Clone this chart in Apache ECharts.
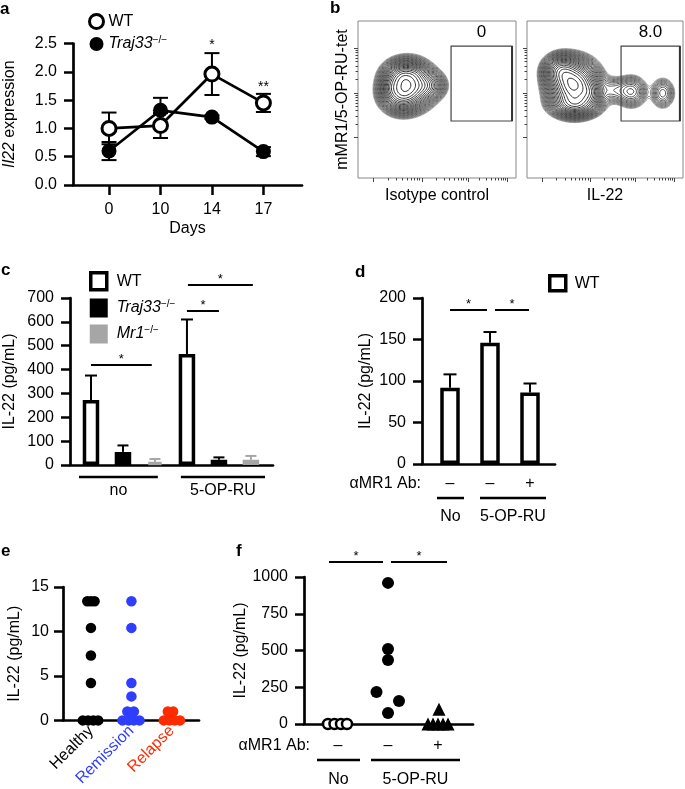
<!DOCTYPE html>
<html><head><meta charset="utf-8">
<script src="https://cdn.jsdelivr.net/npm/echarts@6/dist/echarts.min.js"></script>
<style>html,body{margin:0;padding:0;background:#fff}#c{width:685px;height:789px}</style>
</head><body><div id="c"></div>
<script>
// ---------------- DATA ----------------
// Panel a: Il22 expression over days
const aDays = ['0', '10', '14', '17'];
const aWT = [1.00, 1.05, 1.96, 1.45];
const aWTerr = [0.28, 0.22, 0.37, 0.16];
const aKO = [0.60, 1.32, 1.20, 0.59];
const aKOerr = [0.16, 0.22, 0.03, 0.08];
const aStarPos = [[2, 2.47], [3, 1.73]];
const aStarText = ['*', '**'];

// Panel b: flow plots (density model in plot units 0-100), gates, gate percentages
const bLeftBlobs = [ // [cx, cy, sx, sy, weight]
  [32, 59, 7.5, 7, 1.0],
  [27, 53, 6, 5.5, 0.5],
  [28, 65, 5.5, 4.5, 0.4],
  [44, 59, 5.5, 4.5, 0.25],
  [21, 58, 3, 4, 0.15],
  [37, 67, 3.5, 3, 0.12]
];
const bRightBlobs = [
  [30, 59, 7.5, 7.5, 1.0],
  [22, 68, 5.5, 5, 0.45],
  [31, 47, 7.5, 4, 0.4],
  [40, 54, 4, 4, 0.2],
  [55, 56, 6, 4.5, 0.06],
  [67, 55, 5, 5, 0.12],
  [87, 54, 4, 5, 0.08]
];
const bGatesLeft = [[58.9, 36.3, 97.5, 84]];
const bGatesRight = [[60.3, 36.3, 98, 84]];
const bGateLabelsLeft = ['0'];
const bGateLabelsRight = ['8.0'];
const bMajorX = [9.5, 40.5, 69.6, 94.3];
const bMajorY = [26.1, 54.1, 82.8];

// Panel c
const cWT = [[0, 272], [3, 465]];
const cWTerr = [375, 610];
const cKO = [[1, 55], [4, 22]];
const cKOerr = [82, 32];
const cMR = [[2, 13], [5, 22]];
const cMRerr = [25, 38];
const cSig = [[0, 1.9, 419], [3, 4, 645], [3.03, 5.06, 754]];
const cGroups = [[-0.375, 2.09, -50], [2.81, 5.44, -50]];
const cGroupLabels = ['no', '5-OP-RU'];

// Panel d
const dWT = [[0, 92], [1, 146], [2, 86]];
const dWTerr = [108, 159, 97];
const dSig = [[0, 0.925, 185.5], [1.125, 1.975, 185.5]];
const dAbPos = [[0, -24], [1, -24], [2, -24]];
const dAbText = ['–', '–', '+'];
const dGroups = [[-0.325, 0.35, -41], [0.75, 2.4, -41]];
const dGroupLabels = ['No', '5-OP-RU'];

// Panel e
const eGroups = ['Healthy', 'Remission', 'Relapse'];
const eColors = ['#000000', '#2f3dff', '#ff2b00'];
const eHealthy = [[-0.09, 13.4], [0, 13.4], [0.09, 13.4], [0, 10.4], [0, 7.3], [0, 4.2],
                  [-0.2, 0], [-0.07, 0], [0.06, 0], [0.18, 0]];
const eRemission = [[1, 13.4], [1, 10.4], [1, 4.2], [1, 2.7], [0.9, 1.0], [1.06, 1.0],
                    [0.78, 0], [0.93, 0], [1.06, 0], [1.2, 0]];
const eRelapse = [[1.9, 1.0], [2.03, 1.0], [1.8, 0], [1.94, 0], [2.07, 0], [2.2, 0]];

// Panel f
const fNo = [[-0.2, 0], [-0.07, 0], [0.06, 0], [0.18, 0]];
const fOPRU = [[1, 960], [1, 510], [1, 435], [0.77, 218], [1.22, 156], [1, 75]];
const fAb = [[2.02, 100], [1.8, 0], [1.9, 0], [2.0, 0], [2.1, 0], [2.2, 0]];
const fSig = [[-0.18, 0.9, 1102], [1.06, 2.18, 1102]];
const fAbPos = [[0, -150], [1, -150], [2, -150]];
const fAbText = ['–', '–', '+'];
const fGroups = [[-0.42, 0.44, -245], [0.66, 2.44, -245]];
const fGroupLabels = ['No', '5-OP-RU'];

// ---------------- HELPERS ----------------
const FF = '"Liberation Sans", Arial, Helvetica, sans-serif';
const FS = 16;

function errSeries(g, data, o) {
  return {
    type: 'custom', xAxisIndex: g, yAxisIndex: g, z: o.z || 2, silent: true,
    encode: {x: 0, y: [1, 2]}, data: data,
    renderItem: function (params, api) {
      const x = api.value(0), lo = api.value(1), hi = api.value(2);
      const p1 = api.coord([x, lo]), p2 = api.coord([x, hi]);
      const w = o.cap / 2;
      const st = {stroke: o.color || '#000', lineWidth: o.lw || 2};
      const ch = [
        {type: 'line', shape: {x1: p1[0], y1: p1[1], x2: p2[0], y2: p2[1]}, style: st},
        {type: 'line', shape: {x1: p2[0] - w, y1: p2[1], x2: p2[0] + w, y2: p2[1]}, style: st}
      ];
      if (o.both) ch.push({type: 'line', shape: {x1: p1[0] - w, y1: p1[1], x2: p1[0] + w, y2: p1[1]}, style: st});
      return {type: 'group', children: ch};
    }
  };
}
function textSeries(g, pts, texts, o) {
  return {
    type: 'custom', xAxisIndex: g, yAxisIndex: g, z: 6, silent: true, data: pts,
    renderItem: function (params, api) {
      const p = api.coord([api.value(0), api.value(1)]);
      return {type: 'text', x: p[0], y: p[1] + (o.dy || 0),
        style: {text: texts[params.dataIndex], textAlign: 'center', textVerticalAlign: 'middle',
          font: o.font || (FS + 'px ' + FF), fill: o.color || '#000'}};
    }
  };
}
function hlineSeries(g, segs, labels, o) {
  return {
    type: 'custom', xAxisIndex: g, yAxisIndex: g, z: 6, silent: true,
    encode: {x: [0, 1], y: 2}, data: segs,
    renderItem: function (params, api) {
      const y = api.value(2);
      const p1 = api.coord([api.value(0), y]), p2 = api.coord([api.value(1), y]);
      const ch = [{type: 'line', shape: {x1: p1[0], y1: p1[1], x2: p2[0], y2: p2[1]},
        style: {stroke: '#000', lineWidth: o.lw || 2}}];
      const t = labels[params.dataIndex];
      if (t) ch.push({type: 'text', x: (p1[0] + p2[0]) / 2, y: p1[1] + o.dy,
        style: {text: t, textAlign: 'center', textVerticalAlign: 'middle',
          font: o.font || (FS + 'px ' + FF), fill: '#000'}});
      return {type: 'group', children: ch};
    }
  };
}

// contour lines for the flow plots (marching squares over the density model)
function contours(blobs, nLev) {
  const n = 120, step = 100 / n;
  const f = (x, y) => blobs.reduce((s, b) => s + b[4] * Math.exp(-((x - b[0]) ** 2 / (2 * b[2] ** 2) + (y - b[1]) ** 2 / (2 * b[3] ** 2))), 0);
  const V = [];
  let mx = 0;
  for (let j = 0; j <= n; j++) { V.push([]); for (let i = 0; i <= n; i++) { const v = f(i * step, j * step); V[j].push(v); if (v > mx) mx = v; } }
  const lo = 0.012, hi = 0.93, out = [];
  for (let k = 0; k < nLev; k++) {
    const L = mx * lo * Math.pow(hi / lo, k / (nLev - 1));
    const segs = [];
    for (let j = 0; j < n; j++) for (let i = 0; i < n; i++) {
      const c = [[i, j], [i + 1, j], [i + 1, j + 1], [i, j + 1]];
      const pts = [];
      for (let e = 0; e < 4; e++) {
        const a = c[e], b = c[(e + 1) % 4];
        const va = V[a[1]][a[0]], vb = V[b[1]][b[0]];
        if ((va - L) * (vb - L) < 0) {
          const t = (L - va) / (vb - va);
          pts.push([(a[0] + t * (b[0] - a[0])) * step, (a[1] + t * (b[1] - a[1])) * step]);
        }
      }
      if (pts.length >= 2) segs.push([pts[0][0], pts[0][1], pts[1][0], pts[1][1]]);
      if (pts.length === 4) segs.push([pts[2][0], pts[2][1], pts[3][0], pts[3][1]]);
    }
    out.push(segs);
  }
  return out;
}
function contourSeries(g, blobs) {
  const nLev = 26;
  const lv = contours(blobs, nLev);
  return {
    type: 'custom', xAxisIndex: g, yAxisIndex: g, z: 2, silent: true,
    data: lv.map((_, k) => [k, 0]),
    renderItem: function (params, api) {
      const segs = lv[params.dataIndex];
      if (!segs.length) return;
      let d = '';
      for (const s of segs) {
        const p = api.coord([s[0], s[1]]), q = api.coord([s[2], s[3]]);
        d += 'M' + p[0].toFixed(2) + ' ' + p[1].toFixed(2) + 'L' + q[0].toFixed(2) + ' ' + q[1].toFixed(2);
      }
      const t = params.dataIndex / (nLev - 1);
      const gcol = Math.round(160 - 140 * Math.pow(t, 0.4));
      return {type: 'path', shape: {pathData: d},
        style: {stroke: 'rgb(' + gcol + ',' + gcol + ',' + gcol + ')', lineWidth: 0.9, fill: 'none'}};
    }
  };
}
function gateSeries(g, gates, labels) {
  return {
    type: 'custom', xAxisIndex: g, yAxisIndex: g, z: 4, silent: true, data: gates,
    encode: {x: [0, 2], y: [1, 3]},
    renderItem: function (params, api) {
      const p1 = api.coord([api.value(0), api.value(3)]), p2 = api.coord([api.value(2), api.value(1)]);
      return {type: 'group', children: [
        {type: 'rect', shape: {x: p1[0], y: p1[1], width: p2[0] - p1[0], height: p2[1] - p1[1]},
          style: {stroke: '#444', lineWidth: 1.2, fill: 'none'}},
        {type: 'line', shape: {x1: p2[0], y1: p1[1], x2: p2[0], y2: p2[1]}, style: {stroke: '#333', lineWidth: 2}},
        {type: 'text', x: (p1[0] + p2[0]) / 2, y: p1[1] - 14,
          style: {text: labels[params.dataIndex], textAlign: 'center', textVerticalAlign: 'middle', font: '17px ' + FF, fill: '#000'}}
      ]};
    }
  };
}
function minorTicks(major) {
  const r = [];
  for (let i = 0; i < major.length - 1; i++) for (let k = 2; k <= 9; k++) r.push(major[i] + (major[i + 1] - major[i]) * Math.log10(k));
  return r;
}

// ---------------- AXES ----------------
const AX = {color: '#000', width: 2.7};
const lab = {fontSize: FS, fontFamily: FF, color: '#000'};
const nameSt = {fontSize: FS, fontFamily: FF, color: '#000'};

function yVal(g, min, max, interval, name, gap, fmt, extra) {
  return Object.assign({
    type: 'value', gridIndex: g, position: 'left', min: min, max: max, interval: interval,
    axisLine: {show: true, onZero: false, lineStyle: AX}, axisTick: {show: true, length: 9, lineStyle: {color: '#000', width: 2.5}},
    axisLabel: Object.assign({margin: 16, formatter: fmt}, lab), splitLine: {show: false},
    name: name, nameLocation: 'middle', nameRotate: 90, nameGap: gap, nameTextStyle: nameSt
  }, extra || {});
}
function xVal(g, min, max, extra) {
  return Object.assign({
    type: 'value', gridIndex: g, position: 'bottom', min: min, max: max,
    axisLine: {show: true, lineStyle: AX, onZero: false}, axisTick: {show: false},
    axisLabel: {show: false}, splitLine: {show: false}
  }, extra || {});
}
function bAxisX(g, vals, len, name) {
  return {type: 'value', gridIndex: g, position: 'bottom', min: 0, max: 100, axisLine: {show: false, onZero: false},
    axisTick: {show: true, customValues: vals, length: len, lineStyle: {color: '#444', width: 1}},
    axisLabel: {show: false}, splitLine: {show: false},
    name: name || '', nameLocation: 'middle', nameGap: 10, nameTextStyle: nameSt};
}
function bAxisY(g, vals, len, name) {
  return {type: 'value', gridIndex: g, position: 'left', min: 0, max: 100, axisLine: {show: false, onZero: false},
    axisTick: {show: true, customValues: vals, length: len, lineStyle: {color: '#444', width: 1}},
    axisLabel: {show: false}, splitLine: {show: false},
    name: name || '', nameLocation: 'middle', nameRotate: 90, nameGap: 7, nameTextStyle: nameSt};
}

const grids = [
  {left: 73, top: 43.5, width: 229, height: 141.5},          // a
  {left: 358, top: 21, width: 158, height: 157, show: true, borderColor: '#888', borderWidth: 1}, // b left
  {left: 527, top: 21, width: 156, height: 157, show: true, borderColor: '#888', borderWidth: 1}, // b right
  {left: 70, top: 298, width: 203, height: 167},            // c
  {left: 422, top: 298, width: 133, height: 166},           // d
  {left: 63, top: 587, width: 136, height: 135},            // e
  {left: 304, top: 577, width: 169, height: 147}            // f
];

const xAxes = [
  xVal(0, -0.7, 3.75, {
    axisTick: {show: true, customValues: [0, 1, 2, 3], length: 10, lineStyle: {color: '#000', width: 2.5}},
    axisLabel: Object.assign({show: true, customValues: [0, 1, 2, 3], margin: 17, formatter: v => aDays[Math.round(v)]}, lab),
    name: 'Days', nameLocation: 'middle', nameGap: 36, nameTextStyle: nameSt
  }),
  bAxisX(1, bMajorX, 4, 'Isotype control'),
  bAxisX(2, bMajorX, 4, 'IL-22'),
  xVal(3, -0.656, 5.69),
  xVal(4, -0.7, 2.625),
  xVal(5, -0.69, 2.67, {
    axisLabel: {show: true, customValues: [0, 1, 2], rotate: 45, margin: 8,
      formatter: v => '{c' + Math.round(v) + '|' + eGroups[Math.round(v)] + '}',
      fontSize: FS, fontFamily: FF,
      rich: {c0: {color: eColors[0], fontSize: FS, fontFamily: FF},
             c1: {color: eColors[1], fontSize: FS, fontFamily: FF},
             c2: {color: eColors[2], fontSize: FS, fontFamily: FF}}}
  }),
  xVal(6, -0.68, 2.7),
  bAxisX(1, minorTicks(bMajorX), 2.5),
  bAxisX(2, minorTicks(bMajorX), 2.5)
];
const yAxes = [
  yVal(0, 0, 2.5, 0.5, '{i|Il22} expression', 55, v => v.toFixed(1), {
    nameTextStyle: Object.assign({rich: {i: {fontStyle: 'italic', fontSize: FS, fontFamily: FF}}}, nameSt)
  }),
  bAxisY(1, bMajorY, 4, 'mMR1/5-OP-RU-tet'),
  bAxisY(2, bMajorY, 4),
  yVal(3, 0, 700, 100, 'IL-22 (pg/mL)', 52, v => v),
  yVal(4, 0, 200, 50, 'IL-22 (pg/mL)', 48, v => v),
  yVal(5, 0, 15, 5, 'IL-22 (pg/mL)', 40, v => v, {axisLabel: Object.assign({margin: 14}, lab)}),
  yVal(6, 0, 1000, 250, 'IL-22 (pg/mL)', 52, v => v),
  bAxisY(1, minorTicks(bMajorY), 2.5),
  bAxisY(2, minorTicks(bMajorY), 2.5)
];

// ---------------- SERIES ----------------
const series = [];
// a
series.push(errSeries(0, aWT.map((v, i) => [i, v - aWTerr[i], v + aWTerr[i]]), {cap: 15, lw: 2, both: true}));
series.push(errSeries(0, aKO.map((v, i) => [i, v - aKOerr[i], v + aKOerr[i]]), {cap: 15, lw: 2, both: true}));
series.push({name: 'aWT', type: 'line', xAxisIndex: 0, yAxisIndex: 0, z: 3, data: aWT.map((v, i) => [i, v]),
  symbol: 'circle', symbolSize: 14, lineStyle: {color: '#000', width: 2.7},
  itemStyle: {color: '#fff', borderColor: '#000', borderWidth: 3}});
series.push({name: 'aKO', type: 'line', xAxisIndex: 0, yAxisIndex: 0, z: 4, data: aKO.map((v, i) => [i, v]),
  symbol: 'circle', symbolSize: 15, lineStyle: {color: '#000', width: 2.7},
  itemStyle: {color: '#000', borderColor: '#000', borderWidth: 0}});
series.push(textSeries(0, aStarPos, aStarText, {font: '14px ' + FF}));
// b
series.push(contourSeries(1, bLeftBlobs));
series.push(contourSeries(2, bRightBlobs));
series.push(gateSeries(1, bGatesLeft, bGateLabelsLeft));
series.push(gateSeries(2, bGatesRight, bGateLabelsRight));
// c
const barBase = {type: 'bar', xAxisIndex: 3, yAxisIndex: 3, barWidth: 16.5, barGap: '-100%', z: 3};
series.push(errSeries(3, cWT.map((d, i) => [d[0], d[1], cWTerr[i]]), {cap: 12, lw: 2}));
series.push(errSeries(3, cKO.map((d, i) => [d[0], d[1], cKOerr[i]]), {cap: 11, lw: 2}));
series.push(errSeries(3, cMR.map((d, i) => [d[0], d[1], cMRerr[i]]), {cap: 11, lw: 2, color: '#a6a6a6'}));
series.push(Object.assign({name: 'cWT', data: cWT, itemStyle: {color: '#fff', borderColor: '#000', borderWidth: 3.5}}, barBase));
series.push(Object.assign({name: 'cKO', data: cKO, itemStyle: {color: '#000', borderColor: '#000', borderWidth: 3.5}}, barBase));
series.push(Object.assign({name: 'cMR', data: cMR, itemStyle: {color: '#a6a6a6', borderColor: '#a6a6a6', borderWidth: 3.5}}, barBase));
series.push(hlineSeries(3, cSig, cSig.map(() => '*'), {dy: -6, lw: 2, font: '13px ' + FF}));
series.push(hlineSeries(3, cGroups, cGroupLabels, {dy: 14, lw: 2.5}));
// d
series.push(errSeries(4, dWT.map((d, i) => [d[0], d[1], dWTerr[i]]), {cap: 13, lw: 2}));
series.push({name: 'dWT', type: 'bar', xAxisIndex: 4, yAxisIndex: 4, barWidth: 19.5, z: 3, data: dWT,
  itemStyle: {color: '#fff', borderColor: '#000', borderWidth: 3.5}});
series.push(hlineSeries(4, dSig, dSig.map(() => '*'), {dy: -6, lw: 2, font: '13px ' + FF}));
series.push(textSeries(4, dAbPos, dAbText, {}));
series.push(hlineSeries(4, dGroups, dGroupLabels, {dy: 19, lw: 2.5}));
// e
series.push({name: 'eH', type: 'scatter', xAxisIndex: 5, yAxisIndex: 5, data: eHealthy, symbolSize: 10.5, itemStyle: {color: eColors[0], opacity: 1}});
series.push({name: 'eRm', type: 'scatter', xAxisIndex: 5, yAxisIndex: 5, data: eRemission, symbolSize: 10.5, itemStyle: {color: eColors[1], opacity: 1}});
series.push({name: 'eRl', type: 'scatter', xAxisIndex: 5, yAxisIndex: 5, data: eRelapse, symbolSize: 10.5, itemStyle: {color: eColors[2], opacity: 1}});
// f
series.push({name: 'fNo', type: 'scatter', xAxisIndex: 6, yAxisIndex: 6, data: fNo, symbolSize: 10, z: 4,
  itemStyle: {color: '#fff', borderColor: '#000', borderWidth: 2.5, opacity: 1}});
series.push({name: 'fOPRU', type: 'scatter', xAxisIndex: 6, yAxisIndex: 6, data: fOPRU, symbolSize: 12, itemStyle: {color: '#000', opacity: 1}});
series.push({name: 'fAb', type: 'scatter', xAxisIndex: 6, yAxisIndex: 6, data: fAb, symbol: 'triangle', symbolSize: 13, z: 4, itemStyle: {color: '#000', opacity: 1}});
series.push(hlineSeries(6, fSig, fSig.map(() => '*'), {dy: -6, lw: 2, font: '13px ' + FF}));
series.push(textSeries(6, fAbPos, fAbText, {}));
series.push(hlineSeries(6, fGroups, fGroupLabels, {dy: 20, lw: 2.5}));

// ---------------- LEGENDS ----------------
const legendNames = {aWT: '{n|WT}', aKO: '{i|Traj33}{s|−/−}', cWT: '{n|WT}', cKO: '{i|Traj33}{s|−/−}', cMR: '{i|Mr1}{s|−/−}', dWT: '{n|WT}'};
function legRich(h) {
  return {fontSize: FS, fontFamily: FF, color: '#000', lineHeight: h,
    rich: {n: {fontSize: FS, fontFamily: FF, lineHeight: h},
           i: {fontSize: FS, fontFamily: FF, fontStyle: 'italic', lineHeight: h},
           s: {fontSize: 10, fontFamily: FF, lineHeight: h - 7, padding: [0, 0, 7, 0]}}};
}
const legends = [
  {left: 83, top: 8, orient: 'vertical', itemWidth: 14, itemHeight: 14, itemGap: 5.5, selectedMode: false,
   formatter: n => legendNames[n], textStyle: legRich(14),
   data: [{name: 'aWT', icon: 'circle', itemStyle: {color: '#fff', borderColor: '#000', borderWidth: 3}},
          {name: 'aKO', icon: 'circle', itemStyle: {color: '#000', borderColor: '#000', borderWidth: 0}}]},
  {left: 84, top: 266, orient: 'vertical', itemWidth: 16, itemHeight: 17, itemGap: 7, selectedMode: false,
   formatter: n => legendNames[n], textStyle: Object.assign(legRich(17), {padding: [0, 0, 0, 5]}),
   data: [{name: 'cWT', icon: 'rect', itemStyle: {color: '#fff', borderColor: '#000', borderWidth: 3.5}},
          {name: 'cKO', icon: 'rect', itemStyle: {color: '#000', borderColor: '#000', borderWidth: 2}},
          {name: 'cMR', icon: 'rect', itemStyle: {color: '#a6a6a6', borderColor: '#a6a6a6', borderWidth: 2}}]},
  {left: 543, top: 269, orient: 'vertical', itemWidth: 16, itemHeight: 15, selectedMode: false,
   formatter: n => legendNames[n], textStyle: Object.assign(legRich(15), {padding: [0, 0, 0, 4]}),
   data: [{name: 'dWT', icon: 'rect', itemStyle: {color: '#fff', borderColor: '#000', borderWidth: 3.5}}]}
];

// ---------------- GRAPHIC TEXT ----------------
function gtext(x, y, text, o) {
  o = o || {};
  return {type: 'text', x: x, y: y, silent: true,
    style: {text: text, font: (o.bold ? 'bold ' : '') + (o.size || FS) + 'px ' + FF, fill: '#000',
      textAlign: o.align || 'left', textVerticalAlign: o.va || 'top'}};
}
const graphic = [
  gtext(0, 1, 'a', {bold: true, size: 17}),
  gtext(330, 0, 'b', {bold: true, size: 17}),
  gtext(1, 262, 'c', {bold: true, size: 17}),
  gtext(355, 264, 'd', {bold: true, size: 17}),
  gtext(1, 543, 'e', {bold: true, size: 17}),
  gtext(236, 543, 'f', {bold: true, size: 17}),
  gtext(421, 484, 'αMR1 Ab:', {align: 'right', va: 'middle'}),
  gtext(310, 746, 'αMR1 Ab:', {align: 'right', va: 'middle'})
];

const chart = echarts.init(document.getElementById('c'), null, {renderer: 'canvas'});
chart.setOption({
  animation: false,
  backgroundColor: '#fff',
  textStyle: {fontFamily: FF},
  grid: grids, xAxis: xAxes, yAxis: yAxes, series: series, legend: legends, graphic: graphic
});
</script>
</body></html>
